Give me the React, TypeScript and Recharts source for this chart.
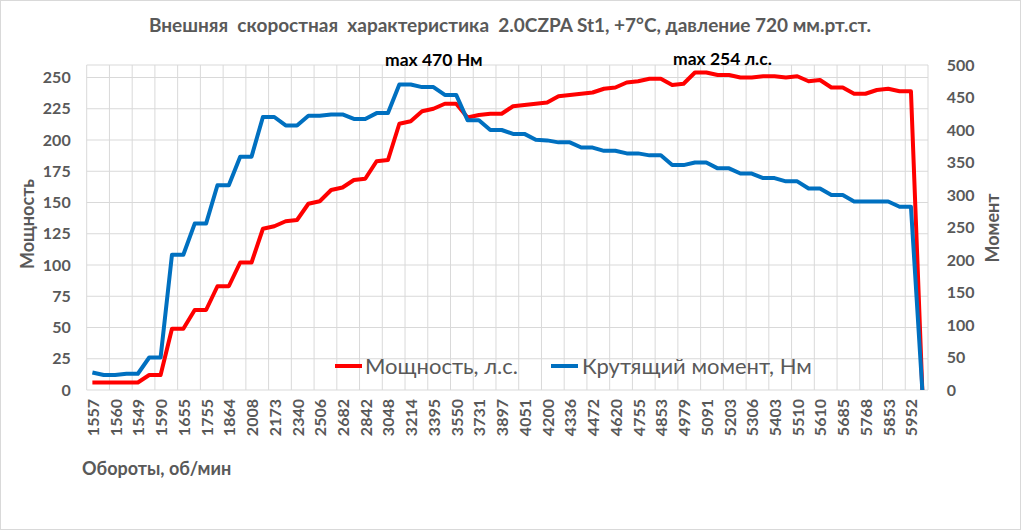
import React from 'react';
import { LineChart, Line, XAxis, YAxis, CartesianGrid, Legend } from 'recharts';

const rpmLabels = ['1557','1560','1549','1590','1655','1755','1864','2008','2173','2340','2506','2682','2842','3048','3214','3395','3550','3731','3897','4051','4200','4336','4472','4620','4755','4853','4979','5091','5203','5306','5403','5510','5610','5685','5768','5853','5952'];

const powerHp = [6,6,6,6,6,12,12,49,49,64,64,83,83,102,102,129,131,135,136,149,151,160,162,168,169,183,184,213,215,223,225,229,229,218,220,221,221,227,228,229,230,235,236,237,238,241,242,246,247,249,249,244,245,254,254,252,252,250,250,251,251,250,251,247,248,242,242,237,237,240,241,239,239,0];

const torqueNm = [27,23,23,25,25,50,50,208,208,256,256,315,315,359,359,420,420,407,407,422,422,424,424,417,417,426,426,470,470,466,466,454,454,415,415,400,400,394,394,385,384,381,381,373,373,368,368,364,364,361,361,346,346,350,350,341,341,333,333,326,326,321,321,310,310,300,300,290,290,290,290,282,282,0];

const powerTicks = [0,25,50,75,100,125,150,175,200,225,250];
const torqueTicks = [0,50,100,150,200,250,300,350,400,450,500];

const seriesNames = { power: 'Мощность, л.с.', torque: 'Крутящий момент, Нм' };

const data = powerHp.map((p, i) => ({ i, power: p, torque: torqueNm[i] }));
const labelIdx = rpmLabels.map((_, k) => k * 2);

const FONT = 'Lato, "Open Sans", sans-serif';
const GRAY = '#595959';
const RED = '#FF0000';
const BLUE = '#0070C0';

const XTick = (props: any) => {
  const { x, y, payload } = props;
  return (
    <text x={x} y={y} transform={`rotate(-90 ${x} ${y})`} textAnchor="end" dominantBaseline="central"
      fill={GRAY} fontFamily={FONT} fontWeight={700} fontSize={16}>
      {rpmLabels[Math.round(payload.value / 2)]}
    </text>
  );
};

const LegendContent = () => (
  <div style={{ display: 'flex', alignItems: 'center', fontFamily: FONT, fontSize: 22, color: GRAY, whiteSpace: 'nowrap' }}>
    <div style={{ display: 'flex', alignItems: 'center', marginRight: 33 }}>
      <div style={{ width: 27, height: 4, background: RED, marginRight: 3 }} />
      <span>{seriesNames.power}</span>
    </div>
    <div style={{ display: 'flex', alignItems: 'center' }}>
      <div style={{ width: 27, height: 4, background: BLUE, marginRight: 4 }} />
      <span>{seriesNames.torque}</span>
    </div>
  </div>
);

export default function App() {
  const W = 1021, H = 530;
  return (
    <div style={{ position: 'fixed', left: 0, top: 0, width: W, height: H, background: '#fff', boxSizing: 'border-box', border: '1px solid #d9d9d9' }}>
      <div style={{ position: 'absolute', left: -1, top: -1 }}>
        <LineChart width={W} height={H} data={data} margin={{ top: 65, right: 43, bottom: 80, left: 36.7 }}>
          <CartesianGrid stroke="#d9d9d9" yAxisId="left"
            verticalCoordinatesGenerator={({ offset }: any) =>
              Array.from({ length: rpmLabels.length + 1 }, (_, k) => offset.left + (k * offset.width) / rpmLabels.length)} />
          <XAxis type="number" dataKey="i" domain={[-0.5, powerHp.length - 0.5]} ticks={labelIdx} interval={0}
            height={60} tickSize={0} tickMargin={9} axisLine={false} tickLine={false} tick={<XTick />} />
          <YAxis yAxisId="left" domain={[0, 260]} ticks={powerTicks} width={50} tickSize={0} tickMargin={16}
            axisLine={false} tickLine={false} tick={{ fill: GRAY, fontSize: 16, fontWeight: 700, fontFamily: FONT }} />
          <YAxis yAxisId="right" orientation="right" domain={[0, 500]} ticks={torqueTicks} width={50} tickSize={0} tickMargin={18.7}
            axisLine={false} tickLine={false} tick={{ fill: GRAY, fontSize: 16, fontWeight: 700, fontFamily: FONT }} />
          <Legend verticalAlign="middle" align="center" layout="horizontal" content={<LegendContent />}
            wrapperStyle={{ left: 335, top: 352, width: 540, height: 30 }} />
          <Line yAxisId="left" dataKey="power" name={seriesNames.power} stroke={RED} strokeWidth={4} dot={false}
            activeDot={false} isAnimationActive={false} strokeLinejoin="round" />
          <Line yAxisId="right" dataKey="torque" name={seriesNames.torque} stroke={BLUE} strokeWidth={4} dot={false}
            activeDot={false} isAnimationActive={false} strokeLinejoin="round" />
        </LineChart>
        <svg width={W} height={H} style={{ position: 'absolute', left: 0, top: 0, pointerEvents: 'none' }} fontFamily={FONT}>
          <text x={510} y={24} textAnchor="middle" dominantBaseline="central" fill={GRAY} fontWeight={700} fontSize={19} style={{ whiteSpace: 'pre' }}>
            {'Внешняя  скоростная  характеристика  2.0CZPA St1, +7°C, давление 720 мм.рт.ст.'}
          </text>
          <text x={385} y={59} dominantBaseline="central" fill="#000" fontWeight={700} fontSize={17.5}>max 470 Нм</text>
          <text x={673} y={58} dominantBaseline="central" fill="#000" fontWeight={700} fontSize={17.5}>max 254 л.с.</text>
          <text x={27} y={224} transform="rotate(-90 27 224)" textAnchor="middle" dominantBaseline="central" fill={GRAY} fontWeight={700} fontSize={18}>Мощность</text>
          <text x={992} y={228} transform="rotate(-90 992 228)" textAnchor="middle" dominantBaseline="central" fill={GRAY} fontWeight={700} fontSize={18}>Момент</text>
          <text x={82} y={468} dominantBaseline="central" fill={GRAY} fontWeight={700} fontSize={18}>Обороты, об/мин</text>
        </svg>
      </div>
    </div>
  );
}
